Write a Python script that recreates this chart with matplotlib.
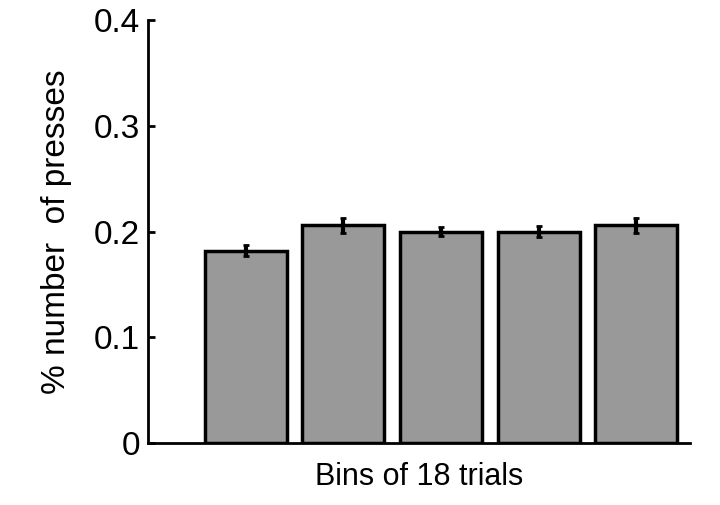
import matplotlib
matplotlib.use("Agg")
import matplotlib.pyplot as plt

plt.rcParams['font.family'] = ['Liberation Sans', 'DejaVu Sans']

bins = [1, 2, 3, 4, 5]
values = [0.182, 0.206, 0.200, 0.200, 0.206]
errors = [0.005, 0.007, 0.004, 0.005, 0.007]

fig = plt.figure(figsize=(7.2, 5.05), dpi=100)
ax = fig.add_axes([0.206, 0.123, 0.752, 0.837])
ax.bar(bins, values, width=0.84, color='#999999', edgecolor='black', linewidth=2.5,
       yerr=errors, error_kw=dict(ecolor='black', elinewidth=3, capsize=2, capthick=2))
ax.set_xlim(0, 5.55)
ax.set_ylim(0, 0.4)
ax.set_yticks([0, 0.1, 0.2, 0.3, 0.4])
ax.set_yticklabels(['0', '0.1', '0.2', '0.3', '0.4'])
ax.set_xticks([])
for s in ['top', 'right']:
    ax.spines[s].set_visible(False)
ax.spines['left'].set_linewidth(2)
ax.spines['bottom'].set_linewidth(2)
ax.tick_params(axis='y', labelsize=24, width=2, length=5, direction='in', pad=6)
ax.set_xlabel('Bins of 18 trials', fontsize=22, labelpad=14)
ax.set_ylabel('% number  of presses', fontsize=24, labelpad=16)
fig.savefig('out.png', dpi=100)
